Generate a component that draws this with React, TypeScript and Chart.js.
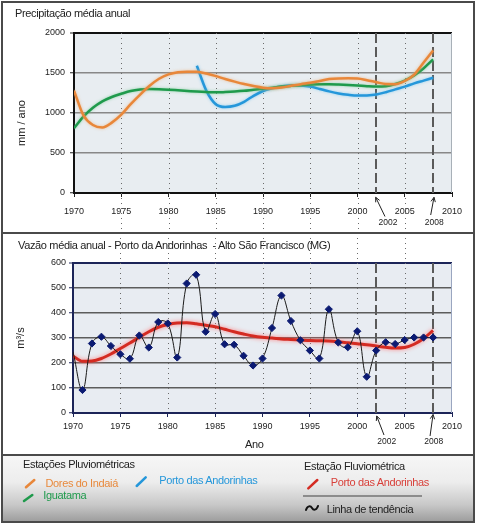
import React, { useEffect, useRef } from 'react';
import { Chart, registerables } from 'chart.js';

Chart.register(...registerables);

const FONT = '"Liberation Sans", Arial, Helvetica, sans-serif';

// ---------- data ----------
const years = [
  1970, 1971, 1972, 1973, 1974, 1975, 1976, 1977, 1978, 1979,
  1980, 1981, 1982, 1983, 1984, 1985, 1986, 1987, 1988, 1989,
  1990, 1991, 1992, 1993, 1994, 1995, 1996, 1997, 1998, 1999,
  2000, 2001, 2002, 2003, 2004, 2005, 2006, 2007, 2008,
];

// Precipitação média anual (mm/ano)
const doresDoIndaia = [
  1280, 970, 850, 820, 880, 980, 1110, 1230, 1340, 1428,
  1482, 1510, 1517, 1515, 1494, 1462, 1425, 1392, 1362, 1337,
  1317, 1310, 1320, 1340, 1360, 1377, 1400, 1424, 1432, 1433,
  1430, 1410, 1385, 1362, 1360, 1400, 1480, 1630, 1780,
];
const iguatama = [
  810, 955, 1065, 1145, 1200, 1240, 1275, 1293, 1300, 1298,
  1292, 1284, 1276, 1268, 1262, 1258, 1262, 1268, 1277, 1290,
  1302, 1315, 1330, 1340, 1348, 1355, 1358, 1358, 1355, 1350,
  1343, 1335, 1330, 1335, 1362, 1405, 1470, 1560, 1670,
];
const portoAndorinhasChuva = [
  null, null, null, null, null, null, null, null, null, null,
  null, null, null, 1590, 1280, 1110, 1075, 1090, 1140, 1215,
  1275, 1310, 1335, 1348, 1345, 1330, 1300, 1270, 1245, 1228,
  1218, 1220, 1232, 1260, 1295, 1330, 1370, 1405, 1440,
];

// Vazão média anual (m³/s) - Porto das Andorinhas
const vazao = [
  245, 92, 278, 305, 268, 235, 217, 310, 262, 364,
  358, 222, 518, 553, 325, 396, 275, 273, 229, 190,
  218, 340, 470, 368, 291, 250, 218, 415, 282, 263,
  327, 145, 250, 283, 276, 292, 302, 302, 302,
];
const tendencia = [
  228, 207, 208, 218, 236, 258, 280, 303, 325, 343,
  354, 360, 361, 357, 351, 345, 335, 325, 316, 308,
  303, 300, 296, 294, 292, 290, 289, 288, 285, 281,
  277, 273, 268, 263, 260, 262, 275, 298, 330,
];

const dottedYears = [1975, 1980, 1985, 1990, 1995, 2000, 2005];
const markYears = [2002, 2008];

const pts = (vals: (number | null)[]) => years.map((yr, i) => ({ x: yr, y: vals[i] }));

// ---------- plugins ----------
type MarkCfg = { tx: number; ty: number; ax: number; ay: number; bx: number; by: number };

function drawArrow(ctx: CanvasRenderingContext2D, x1: number, y1: number, x2: number, y2: number) {
  ctx.beginPath();
  ctx.moveTo(x1, y1);
  ctx.lineTo(x2, y2);
  ctx.stroke();
  const ang = Math.atan2(y2 - y1, x2 - x1);
  const L = 5;
  ctx.beginPath();
  ctx.moveTo(x2 - L * Math.cos(ang - 0.45), y2 - L * Math.sin(ang - 0.45));
  ctx.lineTo(x2, y2);
  ctx.lineTo(x2 - L * Math.cos(ang + 0.45), y2 - L * Math.sin(ang + 0.45));
  ctx.stroke();
}

function decoPlugin(o: {
  bg: string;
  right: string;
  dotFromCanvasTop: boolean;
  dotToCanvasBottom: boolean;
  marks: MarkCfg[];
}) {
  return {
    id: 'deco',
    beforeDraw(chart: any) {
      const { ctx, chartArea: a } = chart;
      ctx.save();
      ctx.fillStyle = o.bg;
      ctx.fillRect(a.left, a.top, a.right - a.left, a.bottom - a.top);
      ctx.restore();
    },
    beforeDatasetsDraw(chart: any) {
      const { ctx, chartArea: a, scales } = chart;
      const x = scales.x;
      ctx.save();
      ctx.strokeStyle = o.right;
      ctx.lineWidth = 1;
      ctx.beginPath();
      ctx.moveTo(a.right - 0.5, a.top);
      ctx.lineTo(a.right - 0.5, a.bottom);
      ctx.stroke();

      ctx.strokeStyle = '#6a6a6a';
      ctx.lineWidth = 1;
      ctx.setLineDash([1, 4]);
      const y0 = o.dotFromCanvasTop ? 0 : a.top;
      const y1 = o.dotToCanvasBottom ? chart.height : a.bottom;
      for (const yr of dottedYears) {
        const px = Math.round(x.getPixelForValue(yr)) + 0.5;
        ctx.beginPath();
        ctx.moveTo(px, y0);
        ctx.lineTo(px, y1);
        ctx.stroke();
      }
      ctx.strokeStyle = '#5a5a5a';
      ctx.lineWidth = 2;
      ctx.setLineDash([10, 4]);
      for (const yr of markYears) {
        const px = Math.round(x.getPixelForValue(yr));
        ctx.beginPath();
        ctx.moveTo(px, a.top);
        ctx.lineTo(px, a.bottom);
        ctx.stroke();
      }
      ctx.restore();
    },
    beforeDatasetDraw(chart: any, args: any) {
      const ds = chart.data.datasets[args.index];
      if (ds.glow) {
        chart.ctx.save();
        chart.ctx.shadowColor = ds.glow;
        chart.ctx.shadowBlur = ds.glowBlur || 3;
      }
    },
    afterDatasetDraw(chart: any, args: any) {
      const ds = chart.data.datasets[args.index];
      if (ds.glow) chart.ctx.restore();
    },
    afterDraw(chart: any) {
      const { ctx, chartArea: a, scales } = chart;
      const x = scales.x;
      ctx.save();
      ctx.fillStyle = '#222';
      ctx.strokeStyle = '#222';
      ctx.lineWidth = 1;
      ctx.font = `8.5px ${FONT}`;
      ctx.textAlign = 'center';
      ctx.textBaseline = 'middle';
      markYears.forEach((yr, i) => {
        const m = o.marks[i];
        const px = x.getPixelForValue(yr);
        ctx.fillText(String(yr), px + m.tx, a.bottom + m.ty);
        drawArrow(ctx, px + m.ax, a.bottom + m.ay, px + m.bx, a.bottom + m.by);
      });
      ctx.restore();
    },
  };
}

const tickFont = { size: 9, family: FONT };

// ---------- text helper ----------
function T(props: {
  x: number;
  y: number;
  size?: number;
  color?: string;
  ls?: number;
  children: React.ReactNode;
}) {
  const size = props.size ?? 11;
  return (
    <div
      style={{
        position: 'absolute',
        left: props.x,
        top: props.y - size / 2,
        fontSize: size,
        lineHeight: `${size}px`,
        color: props.color ?? '#222',
        whiteSpace: 'nowrap',
        letterSpacing: props.ls ?? -0.35,
        fontFamily: FONT,
      }}
    >
      {props.children}
    </div>
  );
}

function RotT(props: { cx: number; cy: number; children: React.ReactNode }) {
  return (
    <div
      style={{
        position: 'absolute',
        left: props.cx - 40,
        top: props.cy - 7,
        width: 80,
        height: 14,
        lineHeight: '14px',
        textAlign: 'center',
        fontSize: 11,
        color: '#222',
        fontFamily: FONT,
        whiteSpace: 'nowrap',
        transform: 'rotate(-90deg)',
      }}
    >
      {props.children}
    </div>
  );
}

export default function App() {
  const topRef = useRef<HTMLCanvasElement>(null);
  const botRef = useRef<HTMLCanvasElement>(null);

  useEffect(() => {
    const c1 = new Chart(topRef.current as HTMLCanvasElement, {
      type: 'line',
      data: {
        datasets: [
          {
            label: 'Dores do Indaiá',
            data: pts(doresDoIndaia),
            borderColor: '#e8873a',
            borderWidth: 2.5,
            pointRadius: 0,
            cubicInterpolationMode: 'monotone',
            glow: 'rgba(240,170,110,0.7)',
          } as any,
          {
            label: 'Iguatama',
            data: pts(iguatama),
            borderColor: '#1f9a4c',
            borderWidth: 2.5,
            pointRadius: 0,
            cubicInterpolationMode: 'monotone',
            glow: 'rgba(110,200,140,0.7)',
          } as any,
          {
            label: 'Porto das Andorinhas',
            data: pts(portoAndorinhasChuva),
            borderColor: '#2597da',
            borderWidth: 2.5,
            pointRadius: 0,
            cubicInterpolationMode: 'monotone',
            glow: 'rgba(120,200,240,0.8)',
          } as any,
        ],
      },
      options: {
        responsive: false,
        animation: false,
        devicePixelRatio: 1,
        events: [],
        layout: { padding: { left: 0, right: 25, top: 33, bottom: 0 } },
        plugins: { legend: { display: false }, tooltip: { enabled: false }, title: { display: false } },
        scales: {
          x: {
            type: 'linear',
            min: 1970,
            max: 2010,
            afterFit: (s: any) => {
              s.height = 40;
            },
            ticks: {
              stepSize: 5,
              font: tickFont,
              color: '#222',
              padding: 9,
              maxRotation: 0,
              autoSkip: false,
              callback: (v: any) => String(v),
            },
            grid: { drawOnChartArea: false, drawTicks: true, tickLength: 4, color: '#222', tickWidth: 1 },
            border: { color: '#111', width: 2 },
          },
          y: {
            min: 0,
            max: 2000,
            afterFit: (s: any) => {
              s.width = 74;
            },
            ticks: { stepSize: 500, font: tickFont, color: '#222', padding: 5, callback: (v: any) => String(v) },
            grid: {
              color: (c: any) => (c.tick && c.tick.value === 2000 ? '#111' : '#888'),
              lineWidth: (c: any) => (c.tick && c.tick.value === 2000 ? 2 : 1.5),
              tickLength: 4,
              tickColor: '#222',
              tickWidth: 1,
            },
            border: { color: '#111', width: 2 },
          },
        },
      },
      plugins: [
        decoPlugin({
          bg: '#e8edf1',
          right: '#a8b0b8',
          dotFromCanvasTop: false,
          dotToCanvasBottom: true,
          marks: [
            { tx: 11.5, ty: 30, ax: 8.6, ay: 23.5, bx: -0.7, by: 4.3 },
            { tx: 1.2, ty: 30, ax: -2.4, ay: 22, bx: 0.9, by: 4.3 },
          ],
        }) as any,
      ],
    });

    const c2 = new Chart(botRef.current as HTMLCanvasElement, {
      type: 'line',
      data: {
        datasets: [
          {
            label: 'Porto das Andorinhas',
            data: pts(vazao),
            borderColor: '#1a1a1a',
            borderWidth: 1,
            tension: 0.4,
            pointStyle: 'rectRot',
            pointRadius: (c: any) => (c.dataIndex === 0 ? 0 : 3.6),
            pointBackgroundColor: '#0b1a72',
            pointBorderColor: '#0b1a72',
            pointBorderWidth: 1,
            order: 1,
          } as any,
          {
            label: 'Linha de tendência',
            data: pts(tendencia),
            borderColor: '#d42b22',
            borderWidth: 3,
            pointRadius: 0,
            cubicInterpolationMode: 'monotone',
            order: 2,
            glow: 'rgba(255,120,120,0.9)',
            glowBlur: 4,
          } as any,
        ],
      },
      options: {
        responsive: false,
        animation: false,
        devicePixelRatio: 1,
        events: [],
        layout: { padding: { left: 0, right: 25, top: 30, bottom: 0 } },
        plugins: { legend: { display: false }, tooltip: { enabled: false }, title: { display: false } },
        scales: {
          x: {
            type: 'linear',
            min: 1970,
            max: 2010,
            afterFit: (s: any) => {
              s.height = 42;
            },
            ticks: {
              stepSize: 5,
              font: tickFont,
              color: '#222',
              padding: 4,
              maxRotation: 0,
              autoSkip: false,
              callback: (v: any) => String(v),
            },
            grid: { drawOnChartArea: false, drawTicks: true, tickLength: 4, color: '#1c2458', tickWidth: 1 },
            border: { color: '#1c2458', width: 2 },
          },
          y: {
            min: 0,
            max: 600,
            afterFit: (s: any) => {
              s.width = 73;
            },
            ticks: { stepSize: 100, font: tickFont, color: '#222', padding: 3, callback: (v: any) => String(v) },
            grid: {
              color: (c: any) => (c.tick && c.tick.value === 600 ? '#1c2458' : '#5c5c5c'),
              lineWidth: (c: any) => (c.tick && c.tick.value === 600 ? 2 : 1.5),
              tickLength: 4,
              tickColor: '#1c2458',
              tickWidth: 1,
            },
            border: { color: '#1c2458', width: 2 },
          },
        },
      },
      plugins: [
        decoPlugin({
          bg: '#e8ecf2',
          right: '#9aa6c0',
          dotFromCanvasTop: true,
          dotToCanvasBottom: false,
          marks: [
            { tx: 10.6, ty: 29, ax: 7.8, ay: 22, bx: 0.5, by: 3 },
            { tx: 0.6, ty: 29, ax: -3, ay: 23, bx: 0, by: 1.5 },
          ],
        }) as any,
      ],
    });

    return () => {
      c1.destroy();
      c2.destroy();
    };
  }, []);

  return (
    <div
      style={{
        position: 'absolute',
        left: 0,
        top: 0,
        width: 477,
        height: 525,
        background: '#fff',
        overflow: 'hidden',
        fontFamily: FONT,
      }}
    >
      <div
        style={{
          position: 'absolute',
          left: 3,
          top: 456,
          width: 470,
          height: 65,
          background: 'linear-gradient(to bottom, #f6f6f6 0%, #ededed 40%, #c8c8c8 75%, #9e9e9e 100%)',
        }}
      />
      <canvas
        ref={topRef}
        width={477}
        height={233}
        style={{ position: 'absolute', left: 0, top: 0, width: 477, height: 233 }}
      />
      <canvas
        ref={botRef}
        width={477}
        height={222}
        style={{ position: 'absolute', left: 0, top: 233, width: 477, height: 222 }}
      />
      <div
        style={{
          position: 'absolute',
          left: 1,
          top: 1,
          width: 474,
          height: 522,
          border: '2px solid #4a4a4a',
          boxSizing: 'border-box',
        }}
      />
      <div style={{ position: 'absolute', left: 1, top: 232, width: 474, height: 2, background: '#4a4a4a' }} />
      <div style={{ position: 'absolute', left: 1, top: 454, width: 474, height: 2, background: '#4a4a4a' }} />

      <T x={15} y={13}>Precipitação média anual</T>
      <T x={18} y={245.5}>Vazão média anual - Porto da Andorinhas&nbsp; - Alto São Francisco (MG)</T>
      <RotT cx={21} cy={123}>mm / ano</RotT>
      <RotT cx={20} cy={338}>m³/s</RotT>
      <T x={245} y={444}>Ano</T>

      <T x={23} y={464.5}>Estações Pluviométricas</T>
      <T x={45.5} y={483} color="#e8893c">Dores do Indaiá</T>
      <T x={43.3} y={495.5} color="#1f9a4c">Iguatama</T>
      <T x={159.3} y={480.3} color="#2597da">Porto das Andorinhas</T>
      <T x={304} y={466}>Estação Fluviométrica</T>
      <T x={330.7} y={482} color="#d8403a">Porto das Andorinhas</T>
      <T x={326.7} y={509}>Linha de tendência</T>

      <svg
        width={477}
        height={525}
        style={{ position: 'absolute', left: 0, top: 0, pointerEvents: 'none' }}
      >
        <line x1={26} y1={487.3} x2={34.3} y2={480} stroke="#e8873a" strokeWidth={2.5} strokeLinecap="round" />
        <line x1={24} y1={501} x2={32.3} y2={495} stroke="#1f9a4c" strokeWidth={2.5} strokeLinecap="round" />
        <line x1={136.7} y1={486} x2={145.7} y2={477.3} stroke="#2597da" strokeWidth={2.5} strokeLinecap="round" />
        <line x1={308.3} y1={488.3} x2={317.3} y2={480} stroke="#d42b22" strokeWidth={2.5} strokeLinecap="round" />
        <line x1={303} y1={496} x2={422} y2={496} stroke="#8c8c8c" strokeWidth={2} />
        <path
          d="M306,510 C307.5,505.5 310.5,505.5 312,508 S316.5,510.5 318,506"
          fill="none"
          stroke="#111"
          strokeWidth={2}
          strokeLinecap="round"
        />
      </svg>
    </div>
  );
}
